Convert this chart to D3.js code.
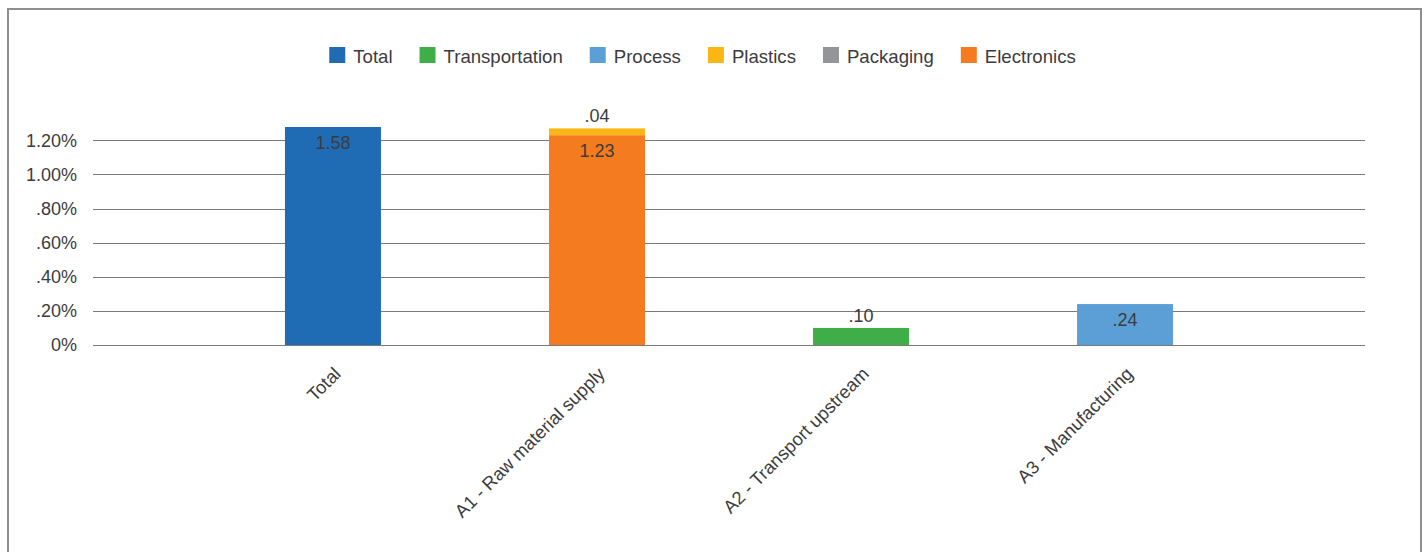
<!DOCTYPE html>
<html>
<head>
<meta charset="utf-8">
<script src="https://cdn.jsdelivr.net/npm/d3@7"></script>
<style>
  html, body { margin: 0; padding: 0; background: #ffffff; }
  svg { display: block; font-family: "Liberation Sans", Arial, Helvetica, sans-serif; }
</style>
</head>
<body>
<svg id="chart" width="1424" height="552"></svg>
<script>
// ---- data ----
const categories = ["Total", "A1 - Raw material supply", "A2 - Transport upstream", "A3 - Manufacturing"];
const legendNames = ["Total", "Transportation", "Process", "Plastics", "Packaging", "Electronics"];
const stackOrder = ["Total", "Transportation", "Process", "Electronics", "Packaging", "Plastics"];
const totalValues = [1.58, 0, 0, 0];
const transportationValues = [0, 0, 0.10, 0];
const processValues = [0, 0, 0, 0.24];
const plasticsValues = [0, 0.04, 0, 0];
const packagingValues = [0, 0, 0, 0];
const electronicsValues = [0, 1.23, 0, 0];
const yTickValues = [0, 0.2, 0.4, 0.6, 0.8, 1.0, 1.2];
const yTickLabels = ["0%", ".20%", ".40%", ".60%", ".80%", "1.00%", "1.20%"];
const yMax = 1.278;

const seriesValues = {
  "Total": totalValues,
  "Transportation": transportationValues,
  "Process": processValues,
  "Plastics": plasticsValues,
  "Packaging": packagingValues,
  "Electronics": electronicsValues
};
const colors = {
  "Total": "#1f6cb5",
  "Transportation": "#3fae49",
  "Process": "#5b9fd6",
  "Plastics": "#fbb616",
  "Packaging": "#939598",
  "Electronics": "#f47b20"
};

// ---- layout ----
const svg = d3.select("#chart");
const plot = { left: 93, right: 1365, top: 127, bottom: 345 };
const textColor = "#3c3c3c";
const fontSize = 18;

// frame
svg.append("rect")
  .attr("x", 8).attr("y", 9).attr("width", 1413).attr("height", 580)
  .attr("fill", "none").attr("stroke", "#8f8f8f").attr("stroke-width", 2);

const x = d3.scaleBand()
  .domain(categories)
  .range([plot.left, plot.right])
  .paddingInner(0.6364)
  .paddingOuter(0.727);

const y = d3.scaleLinear().domain([0, yMax]).range([plot.bottom, plot.top]);

// y axis with gridlines
const yAxis = svg.append("g")
  .attr("transform", `translate(${plot.left},0)`)
  .call(d3.axisLeft(y)
    .tickValues(yTickValues)
    .tickFormat((d, i) => yTickLabels[i])
    .tickSize(-(plot.right - plot.left))
    .tickPadding(16));
yAxis.select(".domain").remove();
yAxis.selectAll(".tick line").attr("stroke", "#7a7a7a").attr("stroke-width", 1).attr("shape-rendering", "crispEdges");
yAxis.selectAll(".tick text")
  .attr("fill", textColor).attr("font-size", fontSize).attr("font-family", null);

// stacked data
const rows = categories.map((c, i) => {
  const r = { category: c };
  stackOrder.forEach(k => r[k] = seriesValues[k][i]);
  return r;
});
const stacked = d3.stack().keys(stackOrder)(rows);

svg.append("defs").append("clipPath").attr("id", "plotClip")
  .append("rect")
  .attr("x", plot.left).attr("y", plot.top)
  .attr("width", plot.right - plot.left).attr("height", plot.bottom - plot.top);

const barsG = svg.append("g").attr("clip-path", "url(#plotClip)");
const segments = [];
stacked.forEach(s => {
  s.forEach((d, i) => {
    const v = d[1] - d[0];
    if (v > 0) segments.push({ key: s.key, cat: categories[i], y0: d[0], y1: d[1], v: v });
  });
});

barsG.selectAll("rect.seg").data(segments).join("rect")
  .attr("class", "seg")
  .attr("x", d => x(d.cat))
  .attr("width", x.bandwidth())
  .attr("y", d => y(d.y1))
  .attr("height", d => y(d.y0) - y(d.y1))
  .attr("fill", d => colors[d.key]);

// data labels
const fmt = v => d3.format(".2f")(v).replace(/^0\./, ".");
svg.append("g").selectAll("text").data(segments).join("text")
  .attr("x", d => x(d.cat) + x.bandwidth() / 2)
  .attr("y", d => {
    const top = Math.max(y(d.y1), plot.top);
    const h = y(d.y0) - top;
    return h < 22 ? top - 6 : top + 22;
  })
  .attr("text-anchor", "middle")
  .attr("font-size", fontSize)
  .attr("fill", textColor)
  .text(d => fmt(d.v));

// x axis labels
const xAxis = svg.append("g")
  .attr("transform", `translate(0,${plot.bottom})`)
  .call(d3.axisBottom(x).tickSize(0).tickPadding(0));
xAxis.select(".domain").remove();
xAxis.selectAll(".tick text")
  .attr("x", 0).attr("y", 0).attr("dy", null)
  .attr("text-anchor", "end")
  .attr("transform", "translate(9,30) rotate(-45)")
  .attr("fill", textColor).attr("font-size", 18.3).attr("font-family", null);

// legend
const legend = svg.append("g");
const items = legendNames.map(n => {
  const g = legend.append("g");
  g.append("rect").attr("width", 16).attr("height", 16).attr("y", 47).attr("fill", colors[n]);
  const t = g.append("text").attr("x", 24).attr("y", 63).attr("font-size", 18.6).attr("fill", textColor).text(n);
  return { g, w: 24 + t.node().getComputedTextLength() };
});
const gap = 27;
const totalW = d3.sum(items, d => d.w) + gap * (items.length - 1);
let cx = 702.5 - totalW / 2;
items.forEach(it => { it.g.attr("transform", `translate(${cx},0)`); cx += it.w + gap; });
</script>
</body>
</html>
